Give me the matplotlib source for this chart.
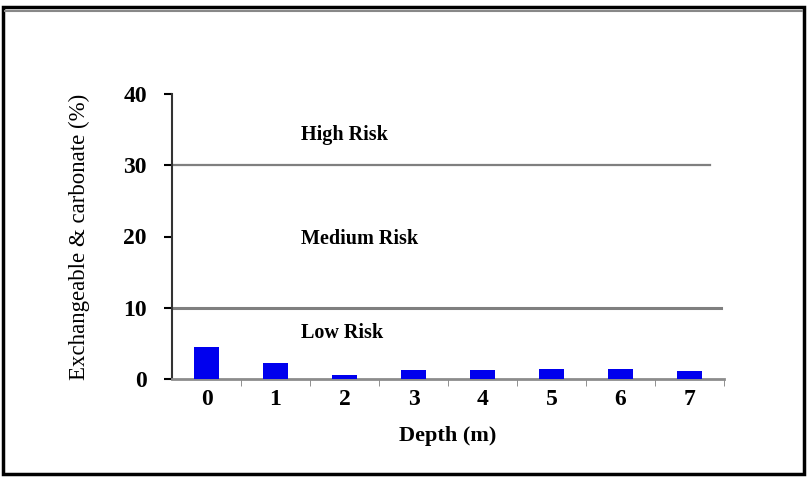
import matplotlib.pyplot as plt
from matplotlib.patches import Rectangle

depths = [0, 1, 2, 3, 4, 5, 6, 7]
values = [4.5, 2.2, 0.5, 1.3, 1.2, 1.4, 1.4, 1.1]
y_ticks = [0, 10, 20, 30, 40]
risk_limits = [10, 30]
risk_labels = ["Low Risk", "Medium Risk", "High Risk"]
risk_label_y = [6.4, 19.6, 34.3]

serif = ["Liberation Serif", "DejaVu Serif"]

fig = plt.figure(figsize=(8.11, 4.78), dpi=100)
ax = fig.add_axes([172 / 811, 1 - 379 / 478, 552 / 811, 285 / 478])

ax.bar(depths, values, width=0.36, color="#0000ee", zorder=3)

# risk boundaries
ax.plot([-0.5, 7.3], [risk_limits[1]] * 2, color="#7f7f7f", lw=1.6, zorder=2)
ax.plot([-0.5, 7.45], [risk_limits[0]] * 2, color="#7f7f7f", lw=2.2, zorder=2)
for lab, yy in zip(risk_labels, risk_label_y):
    ax.text(1.37, yy, lab, ha="left", va="center", fontsize=14.5,
            fontweight="bold", family=serif)

ax.set_xlim(-0.5, 7.5)
ax.set_ylim(0, 40)
ax.set_yticks(y_ticks)
ax.set_xticks(depths)
ax.set_xticks([d + 0.5 for d in depths], minor=True)
ax.tick_params(axis="x", which="major", length=0, pad=7)
ax.tick_params(axis="x", which="minor", length=5, color="#7f7f7f", direction="out")
ax.tick_params(axis="y", length=6, width=1.5, direction="out", pad=12)
for lbl in ax.get_xticklabels() + ax.get_yticklabels():
    lbl.set_fontfamily(serif)
    lbl.set_fontweight("bold")
    lbl.set_fontsize(17)

ax.spines["top"].set_visible(False)
ax.spines["right"].set_visible(False)
ax.spines["left"].set_color("#333333")
ax.spines["left"].set_linewidth(1.5)
ax.spines["bottom"].set_color("#8c8c8c")
ax.spines["bottom"].set_linewidth(2)

ax.set_xlabel("Depth (m)", fontsize=16, fontweight="bold", family=serif, labelpad=12)
ax.set_ylabel("Exchangeable & carbonate (%)", fontsize=16.5, family=serif, labelpad=24)

# outer frame
fig.patches.append(Rectangle((3 / 811, 4 / 478), 801 / 811, 467 / 478,
                             transform=fig.transFigure, fill=False,
                             edgecolor="black", lw=2.5))
fig.lines.append(plt.Line2D([5 / 811, 802 / 811], [1 - 11 / 478] * 2,
                            transform=fig.transFigure, color="#888888", lw=1.5))

fig.savefig("out.png", dpi=100)
